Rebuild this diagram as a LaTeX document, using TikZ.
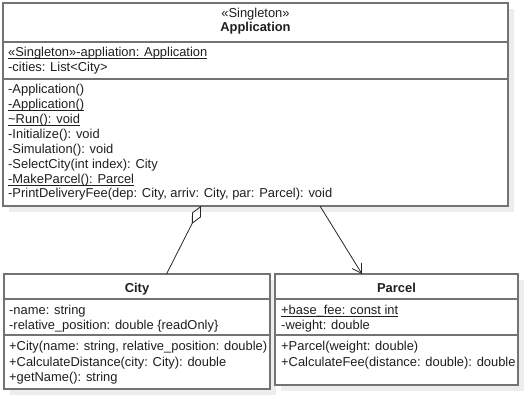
\documentclass[tikz,border=0pt]{standalone}
\usepackage{fontspec}
\setmainfont{Liberation Sans}
\usetikzlibrary{arrows.meta,shadows}
\newcommand{\undl}[1]{\setbox0\hbox{#1}\rlap{\rule[-2.4pt]{\wd0}{0.9pt}}\box0}
\begin{document}
\begin{tikzpicture}[x=1pt,y=-1pt,
  font=\fontsize{12.9pt}{14.9pt}\selectfont,
  umlbox/.style={draw=black!55, line width=1.3pt, fill=white, inner sep=0pt, outer sep=0pt, anchor=north west,
    drop shadow={shadow xshift=6pt, shadow yshift=-6pt, fill=black!7, opacity=1}},
  sepline/.style={draw=black!55, line width=1.3pt},
  txt/.style={anchor=base west, inner sep=0pt, text=black!88},
  ctxt/.style={anchor=base, inner sep=0pt, text=black!88},
  conn/.style={draw=black!85, line width=0.8pt}]
\useasboundingbox (0,0) rectangle (524,395);

% class boxes
\node[umlbox, minimum width=505pt, minimum height=203pt] (app) at (3,3) {};
\node[umlbox, minimum width=266pt, minimum height=115pt] (city) at (4,274) {};
\node[umlbox, minimum width=243pt, minimum height=111pt] (parcel) at (275,274) {};

% compartments
\draw[sepline] (app.west |- 0,42) -- (app.east |- 0,42);
\draw[sepline] (app.west |- 0,79) -- (app.east |- 0,79);
\draw[sepline] (city.west |- 0,299) -- (city.east |- 0,299);
\draw[sepline] (city.west |- 0,335) -- (city.east |- 0,335);
\draw[sepline] (parcel.west |- 0,299) -- (parcel.east |- 0,299);
\draw[sepline] (parcel.west |- 0,335) -- (parcel.east |- 0,335);

% Application
\node[ctxt] (appst) at (255.5,17.5) {«Singleton»};
\node[ctxt] (appname) at (255.5,32) {\textbf{Application}};
\node[txt] (aa1) at (8,56.5) {\undl{«Singleton»-appliation: Application}};
\node[txt] (aa2) at (8,71.3) {-cities: List<City>};
\node[txt] (am1) at (8,94) {-Application()};
\node[txt] (am2) at (8,108.9) {\undl{-Application()}};
\node[txt] (am3) at (8,123.7) {\undl{\textasciitilde Run(): void}};
\node[txt] (am4) at (8,138.6) {-Initialize(): void};
\node[txt] (am5) at (8,153.4) {-Simulation(): void};
\node[txt] (am6) at (8,168.3) {-SelectCity(int index): City};
\node[txt] (am7) at (8,183.2) {\undl{-MakeParcel(): Parcel}};
\node[txt] (am8) at (8,198) {-PrintDeliveryFee(dep: City, arriv: City, par: Parcel): void};

% City
\node[ctxt] (cityname) at (137,292.5) {\textbf{City}};
\node[txt] (ca1) at (9,314.5) {-name: string};
\node[txt] (ca2) at (9,329.5) {-relative\_position: double \{readOnly\}};
\node[txt] (cm1) at (9,350.5) {+City(name: string, relative\_position: double)};
\node[txt] (cm2) at (9,366) {+CalculateDistance(city: City): double};
\node[txt] (cm3) at (9,381.5) {+getName(): string};

% Parcel
\node[ctxt] (parcelname) at (396.5,292.5) {\textbf{Parcel}};
\node[txt] (pa1) at (281,314.5) {\undl{+base\_fee: const int}};
\node[txt] (pa2) at (281,329.5) {-weight: double};
\node[txt] (pm1) at (281,350.5) {+Parcel(weight: double)};
\node[txt] (pm2) at (281,366) {+CalculateFee(distance: double): double};

% connectors
\draw[conn, {Diamond[open,length=20pt,width=10pt]}-] ([xshift=-54.5pt]app.south) -- ([xshift=29.5pt]city.north);
\draw[conn, -{Straight Barb[length=9pt,width=11pt]}] ([xshift=64.5pt]app.south) -- ([xshift=-34.5pt]parcel.north);
\end{tikzpicture}
\end{document}
